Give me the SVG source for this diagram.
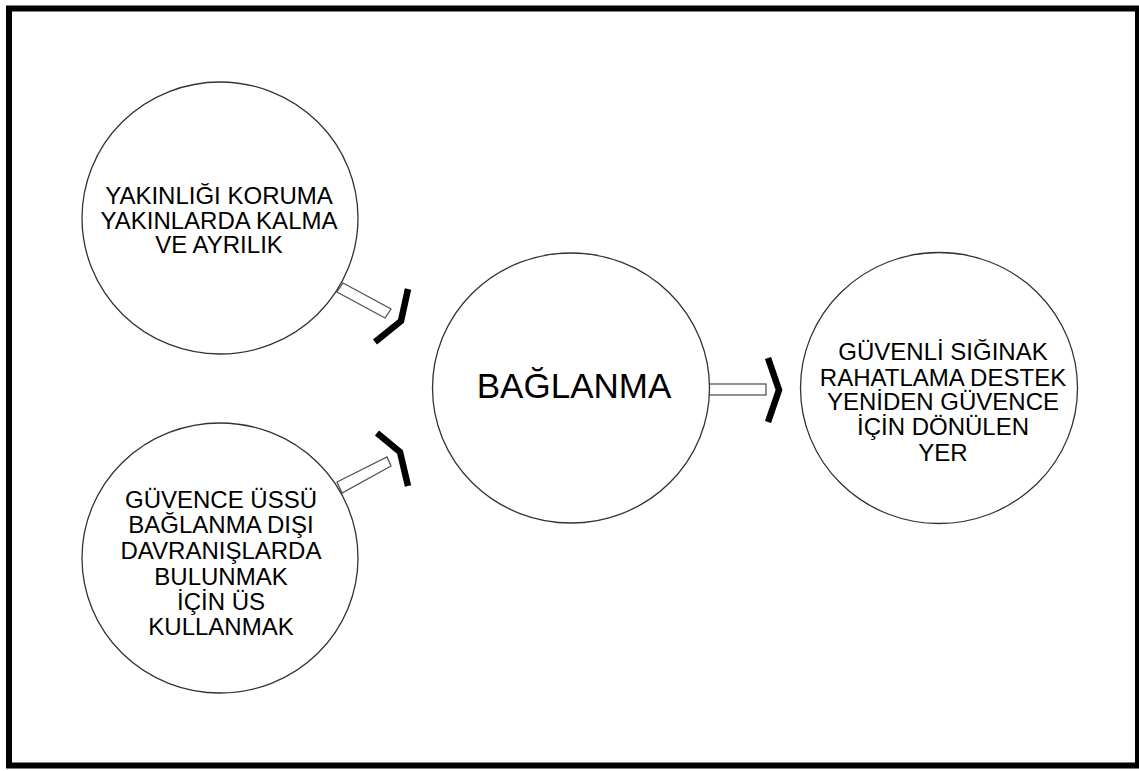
<svg xmlns="http://www.w3.org/2000/svg" width="1139" height="771" viewBox="0 0 1139 771">
<style>
.node{fill:#fff;stroke:#333;stroke-width:1.3}
.t{font-family:"Liberation Sans",Arial,sans-serif;font-size:24px;fill:#000;text-anchor:middle}
.big{font-size:35px}
.bar{fill:#fff;stroke:#555;stroke-width:1.3}
.chev{fill:none;stroke:#000;stroke-width:6.5;stroke-linejoin:miter;stroke-linecap:butt}
</style>
<rect x="0" y="0" width="1139" height="771" fill="#fff"/>
<rect x="9" y="8.5" width="1129" height="757" fill="none" stroke="#000" stroke-width="6"/>
<g id="connectors">
<polygon class="bar" points="343,283 391,309 385,318 337,292"/>
<polyline class="chev" points="408,289 401,321 375,342"/>
<polygon class="bar" points="337,482 387,457 391,466 342,493"/>
<polyline class="chev" points="377,433 400,452 408,486"/>
<rect class="bar" x="709" y="384" width="57" height="11"/>
<polyline class="chev" points="768,358 779,390 768,422"/>
</g>
<g id="node-yakinlik">
<ellipse class="node" cx="220" cy="218" rx="138" ry="136"/>
<text class="t" x="219" y="204">YAKINLIĞI KORUMA</text>
<text class="t" x="219" y="228.5">YAKINLARDA KALMA</text>
<text class="t" x="219" y="253">VE AYRILIK</text>
</g>
<g id="node-guvence-ussu">
<ellipse class="node" cx="220" cy="558" rx="138" ry="135"/>
<text class="t" x="221" y="508">GÜVENCE ÜSSÜ</text>
<text class="t" x="221" y="533">BAĞLANMA DIŞI</text>
<text class="t" x="221" y="559">DAVRANIŞLARDA</text>
<text class="t" x="221" y="584.5">BULUNMAK</text>
<text class="t" x="221" y="610">İÇİN ÜS</text>
<text class="t" x="221" y="635">KULLANMAK</text>
</g>
<g id="node-baglanma">
<ellipse class="node" cx="571" cy="388" rx="138.5" ry="135"/>
<text class="t big" x="574" y="398">BAĞLANMA</text>
</g>
<g id="node-guvenli-siginak">
<ellipse class="node" cx="939" cy="388" rx="138.5" ry="135.5"/>
<text class="t" x="943" y="360">GÜVENLİ SIĞINAK</text>
<text class="t" x="943" y="385.5">RAHATLAMA DESTEK</text>
<text class="t" x="943" y="410">YENİDEN GÜVENCE</text>
<text class="t" x="943" y="435">İÇİN DÖNÜLEN</text>
<text class="t" x="943" y="461">YER</text>
</g>
</svg>
